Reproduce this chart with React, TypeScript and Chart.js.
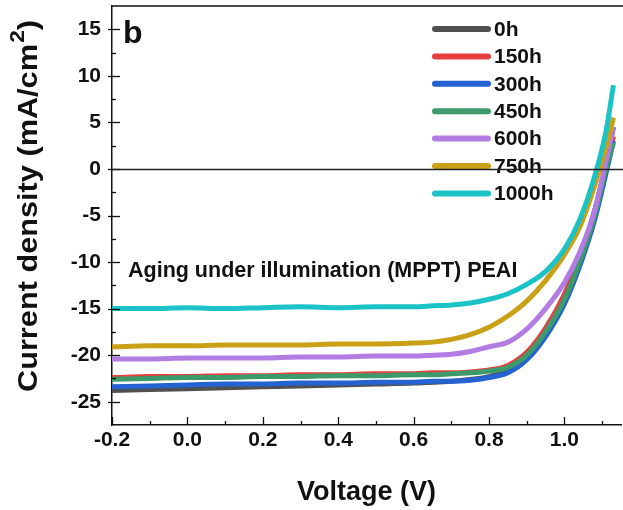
import React, { useEffect, useRef } from "react";
import { Chart, registerables } from "chart.js";

Chart.register(...registerables);

// ---- data ----
const voltage = [-0.2, -0.1, 0.0, 0.1, 0.2, 0.3, 0.4, 0.5, 0.6, 0.65, 0.7, 0.75, 0.8, 0.85, 0.9, 0.95, 1.0, 1.04, 1.08, 1.11, 1.13];
const seriesLabels = ["0h", "150h", "300h", "450h", "600h", "750h", "1000h"];
const seriesColors = ["#505050", "#e5403f", "#2463d1", "#3d9b6b", "#b27ce3", "#c9a016", "#1cc3c6"];
const j0h = [-23.8, -23.7, -23.6, -23.5, -23.4, -23.3, -23.2, -23.1, -23.0, -22.9, -22.8, -22.6, -22.3, -21.6, -20.0, -17.2, -13.5, -9.5, -4.5, 0.5, 4.5];
const j150h = [-22.4, -22.3, -22.3, -22.2, -22.2, -22.1, -22.1, -22.0, -22.0, -21.9, -21.9, -21.8, -21.6, -21.1, -19.7, -17.1, -13.5, -9.6, -4.6, 0.3, 3.5];
const j300h = [-23.4, -23.3, -23.2, -23.1, -23.1, -23.0, -23.0, -22.9, -22.9, -22.8, -22.8, -22.7, -22.4, -21.9, -20.5, -18.0, -14.5, -10.5, -5.5, -0.5, 3.0];
const j450h = [-22.6, -22.5, -22.4, -22.4, -22.3, -22.3, -22.2, -22.2, -22.1, -22.1, -22.0, -21.9, -21.7, -21.3, -20.0, -17.5, -14.0, -10.0, -5.0, 0.0, 2.8];
const j600h = [-20.4, -20.4, -20.3, -20.3, -20.3, -20.2, -20.2, -20.1, -20.1, -20.0, -19.9, -19.6, -19.1, -18.6, -17.2, -15.0, -12.2, -9.0, -4.5, 0.8, 4.5];
const j750h = [-19.1, -19.0, -19.0, -18.9, -18.9, -18.9, -18.8, -18.8, -18.7, -18.6, -18.3, -17.8, -17.0, -15.8, -14.2, -12.0, -9.2, -6.3, -1.8, 2.3, 5.5];
const j1000h = [-15.0, -15.0, -14.9, -15.0, -14.9, -14.8, -14.9, -14.8, -14.8, -14.7, -14.6, -14.4, -14.0, -13.4, -12.4, -11.0, -8.6, -5.5, -0.8, 4.0, 9.0];
const seriesValues = [j0h, j150h, j300h, j450h, j600h, j750h, j1000h];

const xTicks = [-0.2, 0.0, 0.2, 0.4, 0.6, 0.8, 1.0];
const xMinorTicks = [-0.1, 0.1, 0.3, 0.5, 0.7, 0.9, 1.1];
const yTicks = [-25, -20, -15, -10, -5, 0, 5, 10, 15];
const yMinorTicks = [-22.5, -17.5, -12.5, -7.5, -2.5, 2.5, 7.5, 12.5];

const xTitle = "Voltage (V)";
const yTitle = "Current density (mA/cm";
const yTitleSup = "2";
const panelLabel = "b";
const annotation = "Aging under illumination (MPPT) PEAI";

const FONT = "Arial, 'Liberation Sans', Helvetica, sans-serif";

const overlay = {
  id: "overlay",
  afterDatasetsDraw(chart: any) {
    const { ctx, chartArea: ca, scales } = chart;
    const x = scales.x;
    const y = scales.y;
    ctx.save();
    ctx.strokeStyle = "#111";
    ctx.fillStyle = "#111";

    // top border
    ctx.lineWidth = 1.5;
    ctx.beginPath();
    ctx.moveTo(ca.left, ca.top);
    ctx.lineTo(ca.right + 2, ca.top);
    ctx.stroke();

    // ticks
    ctx.lineWidth = 1.3;
    xTicks.forEach((v) => {
      const px = Math.round(x.getPixelForValue(v)) + 0.5;
      ctx.beginPath();
      ctx.moveTo(px, ca.bottom);
      ctx.lineTo(px, ca.bottom - 8);
      ctx.stroke();
    });
    xMinorTicks.forEach((v) => {
      const px = Math.round(x.getPixelForValue(v)) + 0.5;
      ctx.beginPath();
      ctx.moveTo(px, ca.bottom);
      ctx.lineTo(px, ca.bottom - 4);
      ctx.stroke();
    });
    yTicks.forEach((v) => {
      const py = Math.round(y.getPixelForValue(v)) + 0.5;
      ctx.beginPath();
      ctx.moveTo(ca.left - 4, py);
      ctx.lineTo(ca.left + 8, py);
      ctx.stroke();
    });
    yMinorTicks.forEach((v) => {
      const py = Math.round(y.getPixelForValue(v)) + 0.5;
      ctx.beginPath();
      ctx.moveTo(ca.left, py);
      ctx.lineTo(ca.left + 4, py);
      ctx.stroke();
    });

    // legend
    const lx0 = 435, lx1 = 488, ly0 = 29, ldy = 27.4;
    ctx.font = `bold 21px ${FONT}`;
    ctx.textBaseline = "middle";
    ctx.textAlign = "left";
    chart.data.datasets.forEach((ds: any, i: number) => {
      const ly = ly0 + i * ldy;
      ctx.strokeStyle = ds.borderColor;
      ctx.lineWidth = 6;
      ctx.lineCap = "round";
      ctx.beginPath();
      ctx.moveTo(lx0, ly);
      ctx.lineTo(lx1, ly);
      ctx.stroke();
      ctx.fillStyle = "#111";
      ctx.fillText(ds.label, lx1 + 6, ly + 1);
    });
    ctx.lineCap = "butt";

    // zero line
    const y0 = Math.round(y.getPixelForValue(0)) + 0.5;
    ctx.strokeStyle = "#222";
    ctx.lineWidth = 1.3;
    ctx.beginPath();
    ctx.moveTo(ca.left, y0);
    ctx.lineTo(ca.right + 2, y0);
    ctx.stroke();

    // panel label and annotation
    ctx.fillStyle = "#111";
    ctx.textBaseline = "alphabetic";
    ctx.font = `bold 32px ${FONT}`;
    ctx.fillText(panelLabel, 123, 43);
    ctx.font = `bold 21.5px ${FONT}`;
    ctx.fillText(annotation, 128, 277);

    // x title
    ctx.font = `bold 27px ${FONT}`;
    ctx.textAlign = "center";
    ctx.fillText(xTitle, (ca.left + ca.right) / 2, 500);

    // y title (rotated with superscript), stretched along its length
    ctx.textAlign = "left";
    const mainFont = `bold 27px ${FONT}`;
    const supFont = `bold 20px ${FONT}`;
    ctx.font = mainFont;
    const w1 = ctx.measureText(yTitle).width;
    const w3 = ctx.measureText(")").width;
    ctx.font = supFont;
    const w2 = ctx.measureText(yTitleSup).width;
    const total = w1 + w2 + w3 + 1;
    const targetLen = 372;
    ctx.translate(37, 206);
    ctx.rotate(-Math.PI / 2);
    ctx.scale(targetLen / total, 1);
    ctx.translate(-total / 2, 0);
    ctx.font = mainFont;
    ctx.fillText(yTitle, 0, 0);
    ctx.font = supFont;
    ctx.fillText(yTitleSup, w1 + 1, -13);
    ctx.font = mainFont;
    ctx.fillText(")", w1 + w2 + 1, 0);

    ctx.restore();
  },
};

export default function App() {
  const canvasRef = useRef<HTMLCanvasElement | null>(null);

  useEffect(() => {
    const canvas = canvasRef.current;
    if (!canvas) return;
    const datasets = seriesLabels.map((label, i) => ({
      label,
      data: voltage.map((v, k) => ({ x: v, y: seriesValues[i][k] })),
      borderColor: seriesColors[i],
      backgroundColor: seriesColors[i],
      borderWidth: 5,
      pointRadius: 0,
      cubicInterpolationMode: "monotone" as const,
      fill: false,
      order: -i,
    }));

    const chart = new Chart(canvas, {
      type: "line",
      data: { datasets },
      options: {
        responsive: false,
        animation: false,
        devicePixelRatio: 1,
        layout: { padding: { top: 6, right: 2, left: 0, bottom: 0 } },
        plugins: { legend: { display: false }, tooltip: { enabled: false } },
        scales: {
          x: {
            type: "linear",
            min: -0.2,
            max: 1.15,
            grid: { display: false, drawTicks: false },
            border: { display: true, color: "#111", width: 1.5 },
            afterBuildTicks: (scale: any) => {
              scale.ticks = xTicks.map((v) => ({ value: v }));
            },
            afterFit: (scale: any) => {
              scale.height = 85;
              scale.paddingLeft = 0;
              scale.paddingRight = 0;
            },
            ticks: {
              autoSkip: false,
              maxRotation: 0,
              padding: 3,
              color: "#111",
              font: { family: FONT, size: 21, weight: "bold" },
              callback: (v: any) => Number(v).toFixed(1),
            },
          },
          y: {
            type: "linear",
            min: -27.5,
            max: 17.5,
            grid: { display: false, drawTicks: false },
            border: { display: true, color: "#111", width: 1.5 },
            afterBuildTicks: (scale: any) => {
              scale.ticks = yTicks.map((v) => ({ value: v }));
            },
            afterFit: (scale: any) => {
              scale.width = 112;
              scale.paddingTop = 0;
              scale.paddingBottom = 0;
            },
            ticks: {
              autoSkip: false,
              padding: 11,
              color: "#111",
              font: { family: FONT, size: 21, weight: "bold" },
              callback: (v: any) => String(v),
            },
          },
        },
      },
      plugins: [overlay],
    });
    return () => chart.destroy();
  }, []);

  return (
    <div style={{ position: "absolute", left: 0, top: 0, width: 623, height: 510, background: "#fff" }}>
      <canvas ref={canvasRef} width={623} height={510} style={{ display: "block" }} />
    </div>
  );
}
